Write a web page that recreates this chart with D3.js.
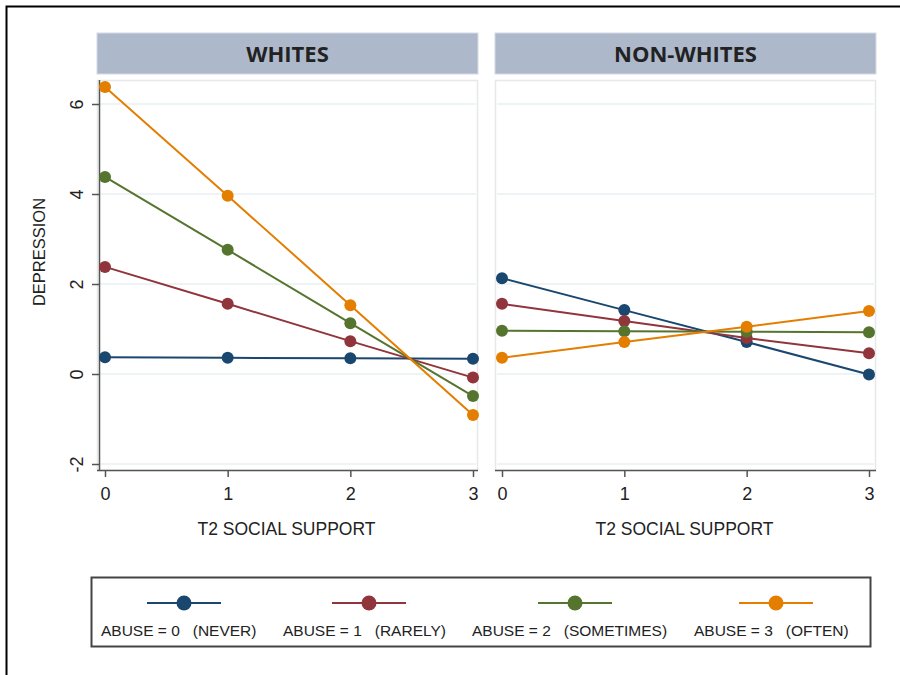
<!DOCTYPE html>
<html>
<head>
<meta charset="utf-8">
<script src="https://cdn.jsdelivr.net/npm/d3@7"></script>
<style>
  body { margin: 0; background: #fff; }
  svg { display: block; }
  text { font-family: "Liberation Sans", Arial, sans-serif; fill: #222; }
  .hdr { font-family: "Open Sans", "Noto Sans", sans-serif; font-weight: 700; }
</style>
</head>
<body>
<svg id="chart" width="900" height="675"></svg>
<script>
// Predicted depression by T2 social support, split by race and abuse frequency
const supportLevels = [0, 1, 2, 3];
const panelTitles = ["WHITES", "NON-WHITES"];
const yTicks = [-2, 0, 2, 4, 6];
const abuseLabels = [
  "ABUSE = 0   (NEVER)",
  "ABUSE = 1   (RARELY)",
  "ABUSE = 2   (SOMETIMES)",
  "ABUSE = 3   (OFTEN)"
];
const abuseColors = ["#1a476f", "#90353b", "#55752f", "#e37e00"];

const whitesNever     = [0.37, 0.36, 0.35, 0.34];
const whitesRarely    = [2.38, 1.56, 0.73, -0.08];
const whitesSometimes = [4.38, 2.76, 1.13, -0.49];
const whitesOften     = [6.38, 3.96, 1.53, -0.91];

const nonWhitesNever     = [2.13, 1.42, 0.71, -0.01];
const nonWhitesRarely    = [1.56, 1.18, 0.80, 0.46];
const nonWhitesSometimes = [0.96, 0.95, 0.94, 0.93];
const nonWhitesOften     = [0.36, 0.71, 1.05, 1.40];

const panelSeries = [
  [whitesNever, whitesRarely, whitesSometimes, whitesOften],
  [nonWhitesNever, nonWhitesRarely, nonWhitesSometimes, nonWhitesOften]
];

const svg = d3.select("#chart");

// outer frame
svg.append("path")
  .attr("d", "M6.5,680 V6.5 H905")
  .attr("fill", "none").attr("stroke", "#000").attr("stroke-width", 2);

const y = d3.scaleLinear().domain([-2, 6]).range([464, 104]);

const panels = [
  { left: 97, right: 478, x0: 105, x3: 473 },
  { left: 495, right: 876, x0: 502, x3: 869 }
];
const plotTop = 80, plotBottom = 470;

panels.forEach((p, pi) => {
  const x = d3.scaleLinear().domain([0, 3]).range([p.x0, p.x3]);
  const g = svg.append("g");

  // header strip
  g.append("rect")
    .attr("x", p.left).attr("y", 33)
    .attr("width", p.right - p.left).attr("height", 41)
    .attr("fill", "#adb9cb").attr("stroke", "#d4dae3").attr("stroke-width", 1);
  g.append("text").attr("class", "hdr")
    .attr("x", (p.left + p.right) / 2).attr("y", 62)
    .attr("text-anchor", "middle").attr("font-size", 22)
    .text(panelTitles[pi]);

  // plot region
  g.append("rect")
    .attr("x", p.left + 0.5).attr("y", plotTop + 0.5)
    .attr("width", p.right - p.left - 1).attr("height", plotBottom - plotTop)
    .attr("fill", "#fff").attr("stroke", "#e6e8ea").attr("stroke-width", 1.5);

  // gridlines
  g.selectAll(".grid").data(yTicks).enter().append("line")
    .attr("x1", p.left + 2).attr("x2", p.right - 2)
    .attr("y1", d => y(d)).attr("y2", d => y(d))
    .attr("stroke", "#e8f0f2").attr("stroke-width", 1.5);

  // x axis
  const xAxis = d3.axisBottom(x).tickValues(supportLevels).tickSize(7).tickPadding(10)
    .tickFormat(d => String(d));
  const xa = g.append("g").attr("transform", `translate(0,${plotBottom})`).call(xAxis);
  xa.select(".domain").attr("d", `M${p.left},0.5H${p.right}`).attr("stroke", "#555").attr("stroke-width", 1.5);
  xa.selectAll(".tick line").attr("stroke", "#555").attr("stroke-width", 1.5);
  xa.selectAll(".tick text").attr("font-size", 18).attr("fill", "#222")
    .attr("font-family", "Liberation Sans, Arial, sans-serif");

  g.append("text")
    .attr("x", (p.left + p.right) / 2 - 1).attr("y", 535)
    .attr("text-anchor", "middle").attr("font-size", 17.5)
    .text("T2 SOCIAL SUPPORT");

  // y axis only on the first panel
  if (pi === 0) {
    const yAxis = d3.axisLeft(y).tickValues(yTicks).tickSize(7).tickPadding(0).tickFormat(d => String(d));
    const ya = g.append("g").attr("transform", `translate(${p.left + 2},0)`).call(yAxis);
    ya.select(".domain").attr("d", `M0.5,${plotTop}V${plotBottom}`).attr("stroke", "#555").attr("stroke-width", 1.5);
    ya.selectAll(".tick line").attr("stroke", "#555").attr("stroke-width", 1.5);
    ya.selectAll(".tick text").remove();
    ya.selectAll(".tick").append("text")
      .attr("transform", "translate(-16,0) rotate(-90)")
      .attr("text-anchor", "middle").attr("font-size", 18)
      .attr("fill", "#222").attr("font-family", "Liberation Sans, Arial, sans-serif")
      .text(d => String(d));

    g.append("text")
      .attr("transform", `translate(45,252) rotate(-90)`)
      .attr("text-anchor", "middle").attr("font-size", 16.5)
      .text("DEPRESSION");
  }

  // series
  const line = d3.line().x((d, i) => x(supportLevels[i])).y(d => y(d));
  panelSeries[pi].forEach((vals, si) => {
    g.append("path").datum(vals)
      .attr("d", line).attr("fill", "none")
      .attr("stroke", abuseColors[si]).attr("stroke-width", 2);
  });
  panelSeries[pi].forEach((vals, si) => {
    g.selectAll(null).data(vals).enter().append("circle")
      .attr("cx", (d, i) => x(supportLevels[i])).attr("cy", d => y(d))
      .attr("r", 6).attr("fill", abuseColors[si]);
  });
});

// legend
const lg = svg.append("g");
lg.append("rect").attr("x", 91.5).attr("y", 577.5).attr("width", 779).attr("height", 69)
  .attr("fill", "#fff").attr("stroke", "#444").attr("stroke-width", 2);
const legendMarkers = [184, 369, 575, 776];
const legendTextX = [101, 283, 472, 694];
abuseLabels.forEach((lab, i) => {
  lg.append("line").attr("x1", legendMarkers[i] - 37).attr("x2", legendMarkers[i] + 37)
    .attr("y1", 603).attr("y2", 603).attr("stroke", abuseColors[i]).attr("stroke-width", 2);
  lg.append("circle").attr("cx", legendMarkers[i]).attr("cy", 603).attr("r", 7.5).attr("fill", abuseColors[i]);
  lg.append("text").attr("x", legendTextX[i]).attr("y", 636).attr("font-size", 15.5)
    .attr("xml:space", "preserve").style("white-space", "pre").text(lab);
});
</script>
</body>
</html>
